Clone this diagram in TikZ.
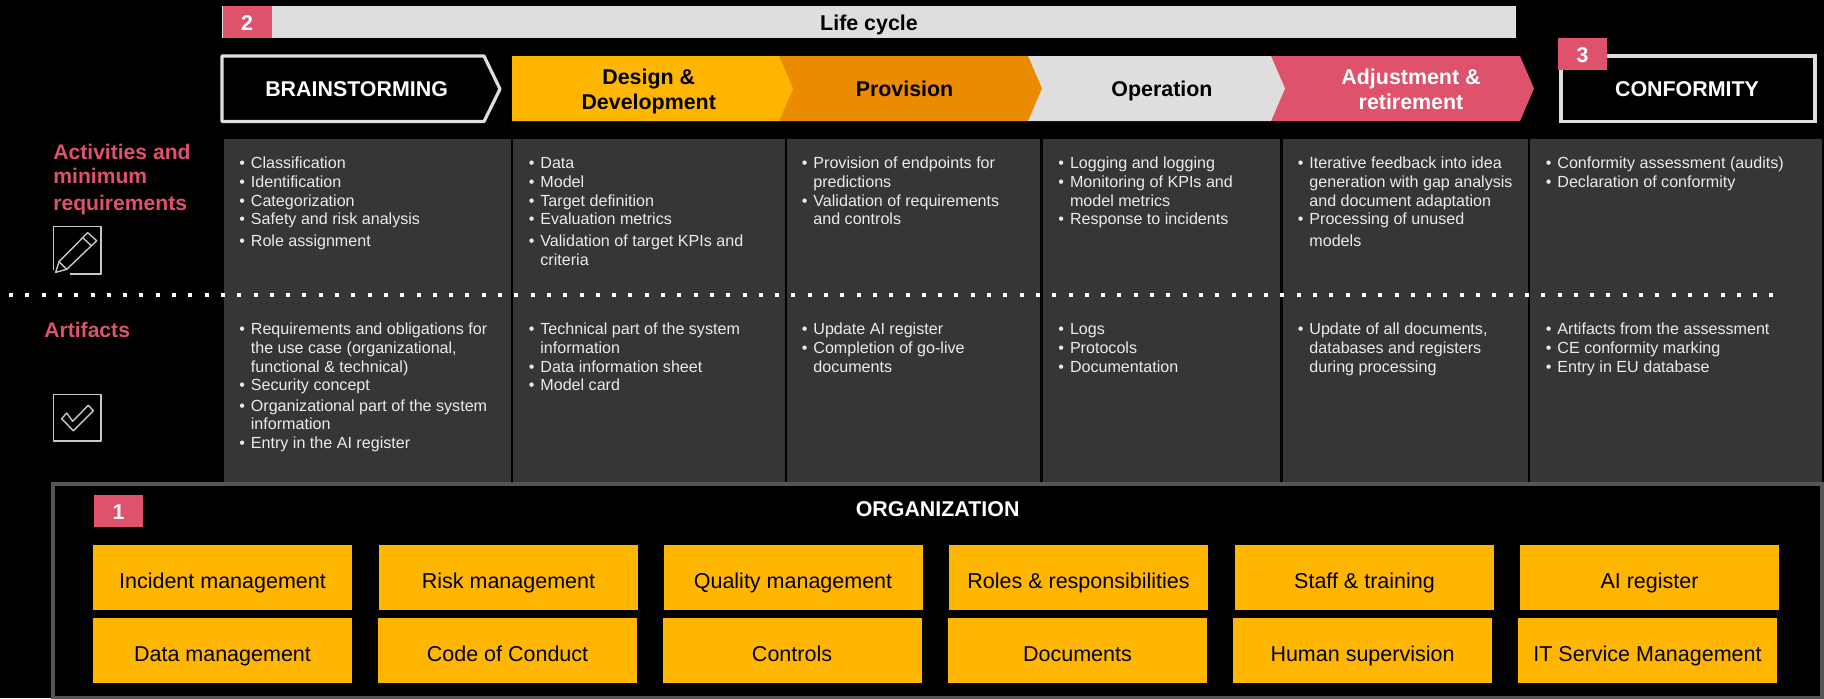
\documentclass[tikz,border=0pt]{standalone}
\usepackage{fontspec}
\setmainfont{Liberation Sans}

\definecolor{amber}{HTML}{FFB600}
\definecolor{tangerine}{HTML}{EB8C00}
\definecolor{rose}{HTML}{DE526B}
\definecolor{lightgrey}{HTML}{DEDEDE}
\definecolor{cellgrey}{HTML}{363636}
\definecolor{framegrey}{HTML}{555555}

\newcommand{\bul}{\strut\llap{\textbullet\hspace{3pt}}}

\tikzset{
    cell/.style={anchor=north west, inner sep=0pt, align=left, text=lightgrey!60!white,
        font=\fontsize{8.05}{9.3}\selectfont},
    head/.style={inner sep=0pt, align=center, font=\fontsize{10.7}{12.5}\selectfont\bfseries},
    title/.style={inner sep=0pt, text height=7.7pt, text depth=0pt, font=\fontsize{10.7}{12.5}\selectfont\bfseries},
    side/.style={anchor=north west, inner sep=0pt, align=left, text=rose,
        font=\fontsize{10.55}{12}\selectfont\bfseries},
    tagbox/.style={fill=rose, text=white, inner sep=0pt, minimum width=24.5pt, minimum height=16pt,
        text height=8.4pt, text depth=0pt, font=\fontsize{10.7}{12}\selectfont\bfseries},
    orgbox/.style={fill=amber, text=black, inner sep=0pt, minimum width=129.5pt, minimum height=32.5pt,
        text height=10.8pt, text depth=0pt, font=\fontsize{10.75}{12}\selectfont},
    icon/.style={draw=lightgrey!90!black, line width=0.7pt, line join=round}
}

\begin{document}
\begin{tikzpicture}[x=0.5pt, y=-0.5pt]
        \useasboundingbox (0,0) rectangle (1824,698);
        \fill[black] (0,0) rectangle (1824,698);

        %life cycle bar
        \fill[lightgrey] (222,6) rectangle (1516,38);
        \node[title, text=black] (lifecycle) at (869,23) {Life cycle};
        \node[tagbox] (tagtwo) at (247,22) {2};

        %phases, right to left so that each tip lies on the next one
        \fill[rose] (1271,56) -- (1520,56) -- (1534,88.5) -- (1520,121) -- (1271,121) -- cycle;
        \fill[lightgrey] (1028,56) -- (1271,56) -- (1285,88.5) -- (1271,121) -- (1028,121) -- cycle;
        \fill[tangerine] (779,56) -- (1028,56) -- (1042,88.5) -- (1028,121) -- (779,121) -- cycle;
        \fill[amber] (512,56) -- (779,56) -- (793,88.5) -- (779,121) -- (512,121) -- cycle;
        \draw[lightgrey, line width=1.6pt, line join=round] (222,56) -- (484,56) -- (500,89) -- (484,121.5) -- (222,121.5) -- cycle;
        \draw[lightgrey, line width=1.6pt] (1561,56) rectangle (1815,121.5);
        \node[tagbox] (tagthree) at (1582.5,54) {3};

        \node[title, text=white] (brainstorming) at (356.6,89) {BRAINSTORMING};
        \node[head, text=black] (design) at (648.7,91) {Design \&\\Development};
        \node[title, text=black] (provision) at (904.5,89) {Provision};
        \node[title, text=black] (operation) at (1162,89) {Operation};
        \node[head, text=white] (adjustment) at (1411,89) {Adjustment \&\\retirement};
        \node[title, text=white] (conformity) at (1687,89) {CONFORMITY};

        %columns
        \foreach \xa/\xb in {223.5/511, 513/785, 787/1040, 1043/1280, 1283/1528, 1530/1822}
            \fill[cellgrey] (\xa,139) rectangle (\xb,482);

        %activities
        \node[cell] (acta) at (250.5,155.4) {\bul Classification\\\bul Identification\\\bul Categorization\\\bul Safety and risk analysis\\[1.6pt]\bul Role assignment};
        \node[cell] (actb) at (540,155.4) {\bul Data\\\bul Model\\\bul Target definition\\\bul Evaluation metrics\\[1.6pt]\bul Validation of target KPIs and\\criteria};
        \node[cell] (actc) at (813,155.4) {\bul Provision of endpoints for\\predictions\\\bul Validation of requirements\\and controls};
        \node[cell] (actd) at (1069.6,155.4) {\bul Logging and logging\\\bul Monitoring of KPIs and\\model metrics\\\bul Response to incidents};
        \node[cell] (acte) at (1309,155.4) {\bul Iterative feedback into idea\\generation with gap analysis\\and document adaptation\\\bul Processing of unused\\[1.6pt]models};
        \node[cell] (actf) at (1557,155.4) {\bul Conformity assessment (audits)\\\bul Declaration of conformity};

        %artifacts
        \node[cell] (arta) at (250.5,321.4) {\bul Requirements and obligations for\\the use case (organizational,\\functional \& technical)\\\bul Security concept\\[1pt]\bul Organizational part of the system\\information\\\bul Entry in the AI register};
        \node[cell] (artb) at (540,321.4) {\bul Technical part of the system\\information\\\bul Data information sheet\\\bul Model card};
        \node[cell] (artc) at (813,321.4) {\bul Update AI register\\\bul Completion of go-live\\documents};
        \node[cell] (artd) at (1069.6,321.4) {\bul Logs\\\bul Protocols\\\bul Documentation};
        \node[cell] (arte) at (1309,321.4) {\bul Update of all documents,\\databases and registers\\during processing};
        \node[cell] (artf) at (1557,321.4) {\bul Artifacts from the assessment\\\bul CE conformity marking\\\bul Entry in EU database};

        %dotted separator
        \coordinate (dotstart) at (9,295);
        \coordinate (dotend) at (1774,295);
        \draw[white, line width=2.2pt, dash pattern=on 2pt off 6.15pt] (dotstart) -- (dotend);

        %side labels
        \node[side] (activities) at (53,142) {\strut Activities and\\\strut minimum\\[1.5pt]\strut requirements};
        \node[side] (artifacts) at (44,320) {\strut Artifacts};

        %pencil icon
        \draw[icon] (53.7,270) -- (53.7,226.7) -- (101,226.7) -- (101,274) -- (70,274);
        \draw[icon] (55.7,272.3) -- (59,261.7) -- (87.7,232.7) -- (96.7,240.7) -- (66.7,269.3) -- cycle;
        \draw[icon] (82.3,237.3) -- (91.7,246);
        \draw[icon] (59,261.7) -- (66.7,269.3);

        %check icon
        \draw[icon] (53.7,394.7) rectangle (101,441);
        \draw[icon] (61.7,418.7) -- (73.3,430.7) -- (93.3,410.7) -- (88.3,405.3) -- (72.7,421.3) -- (66.7,413) -- cycle;

        %organization
        \draw[framegrey, line width=2pt] (53,483.5) rectangle (1822,698);
        \node[tagbox] (tagone) at (118.5,511) {1};
        \node[title, text=white] (organization) at (937.6,509) {ORGANIZATION};

        \foreach \n/\x/\y/\t in {
            incident/222.5/577.5/Incident management,
            risk/508.5/577.5/Risk management,
            quality/793/577.5/Quality management,
            roles/1078.5/577.5/Roles \& responsibilities,
            staff/1364.5/577.5/Staff \& training,
            register/1649.5/577.5/AI register,
            data/222.5/650.5/Data management,
            code/507.5/650.5/Code of Conduct,
            controls/792/650.5/Controls,
            documents/1077.5/650.5/Documents,
            human/1362.5/650.5/Human supervision,
            service/1647.5/650.5/IT Service Management}
            \node[orgbox] (\n) at (\x,\y) {\t};
    \end{tikzpicture}
\end{document}
